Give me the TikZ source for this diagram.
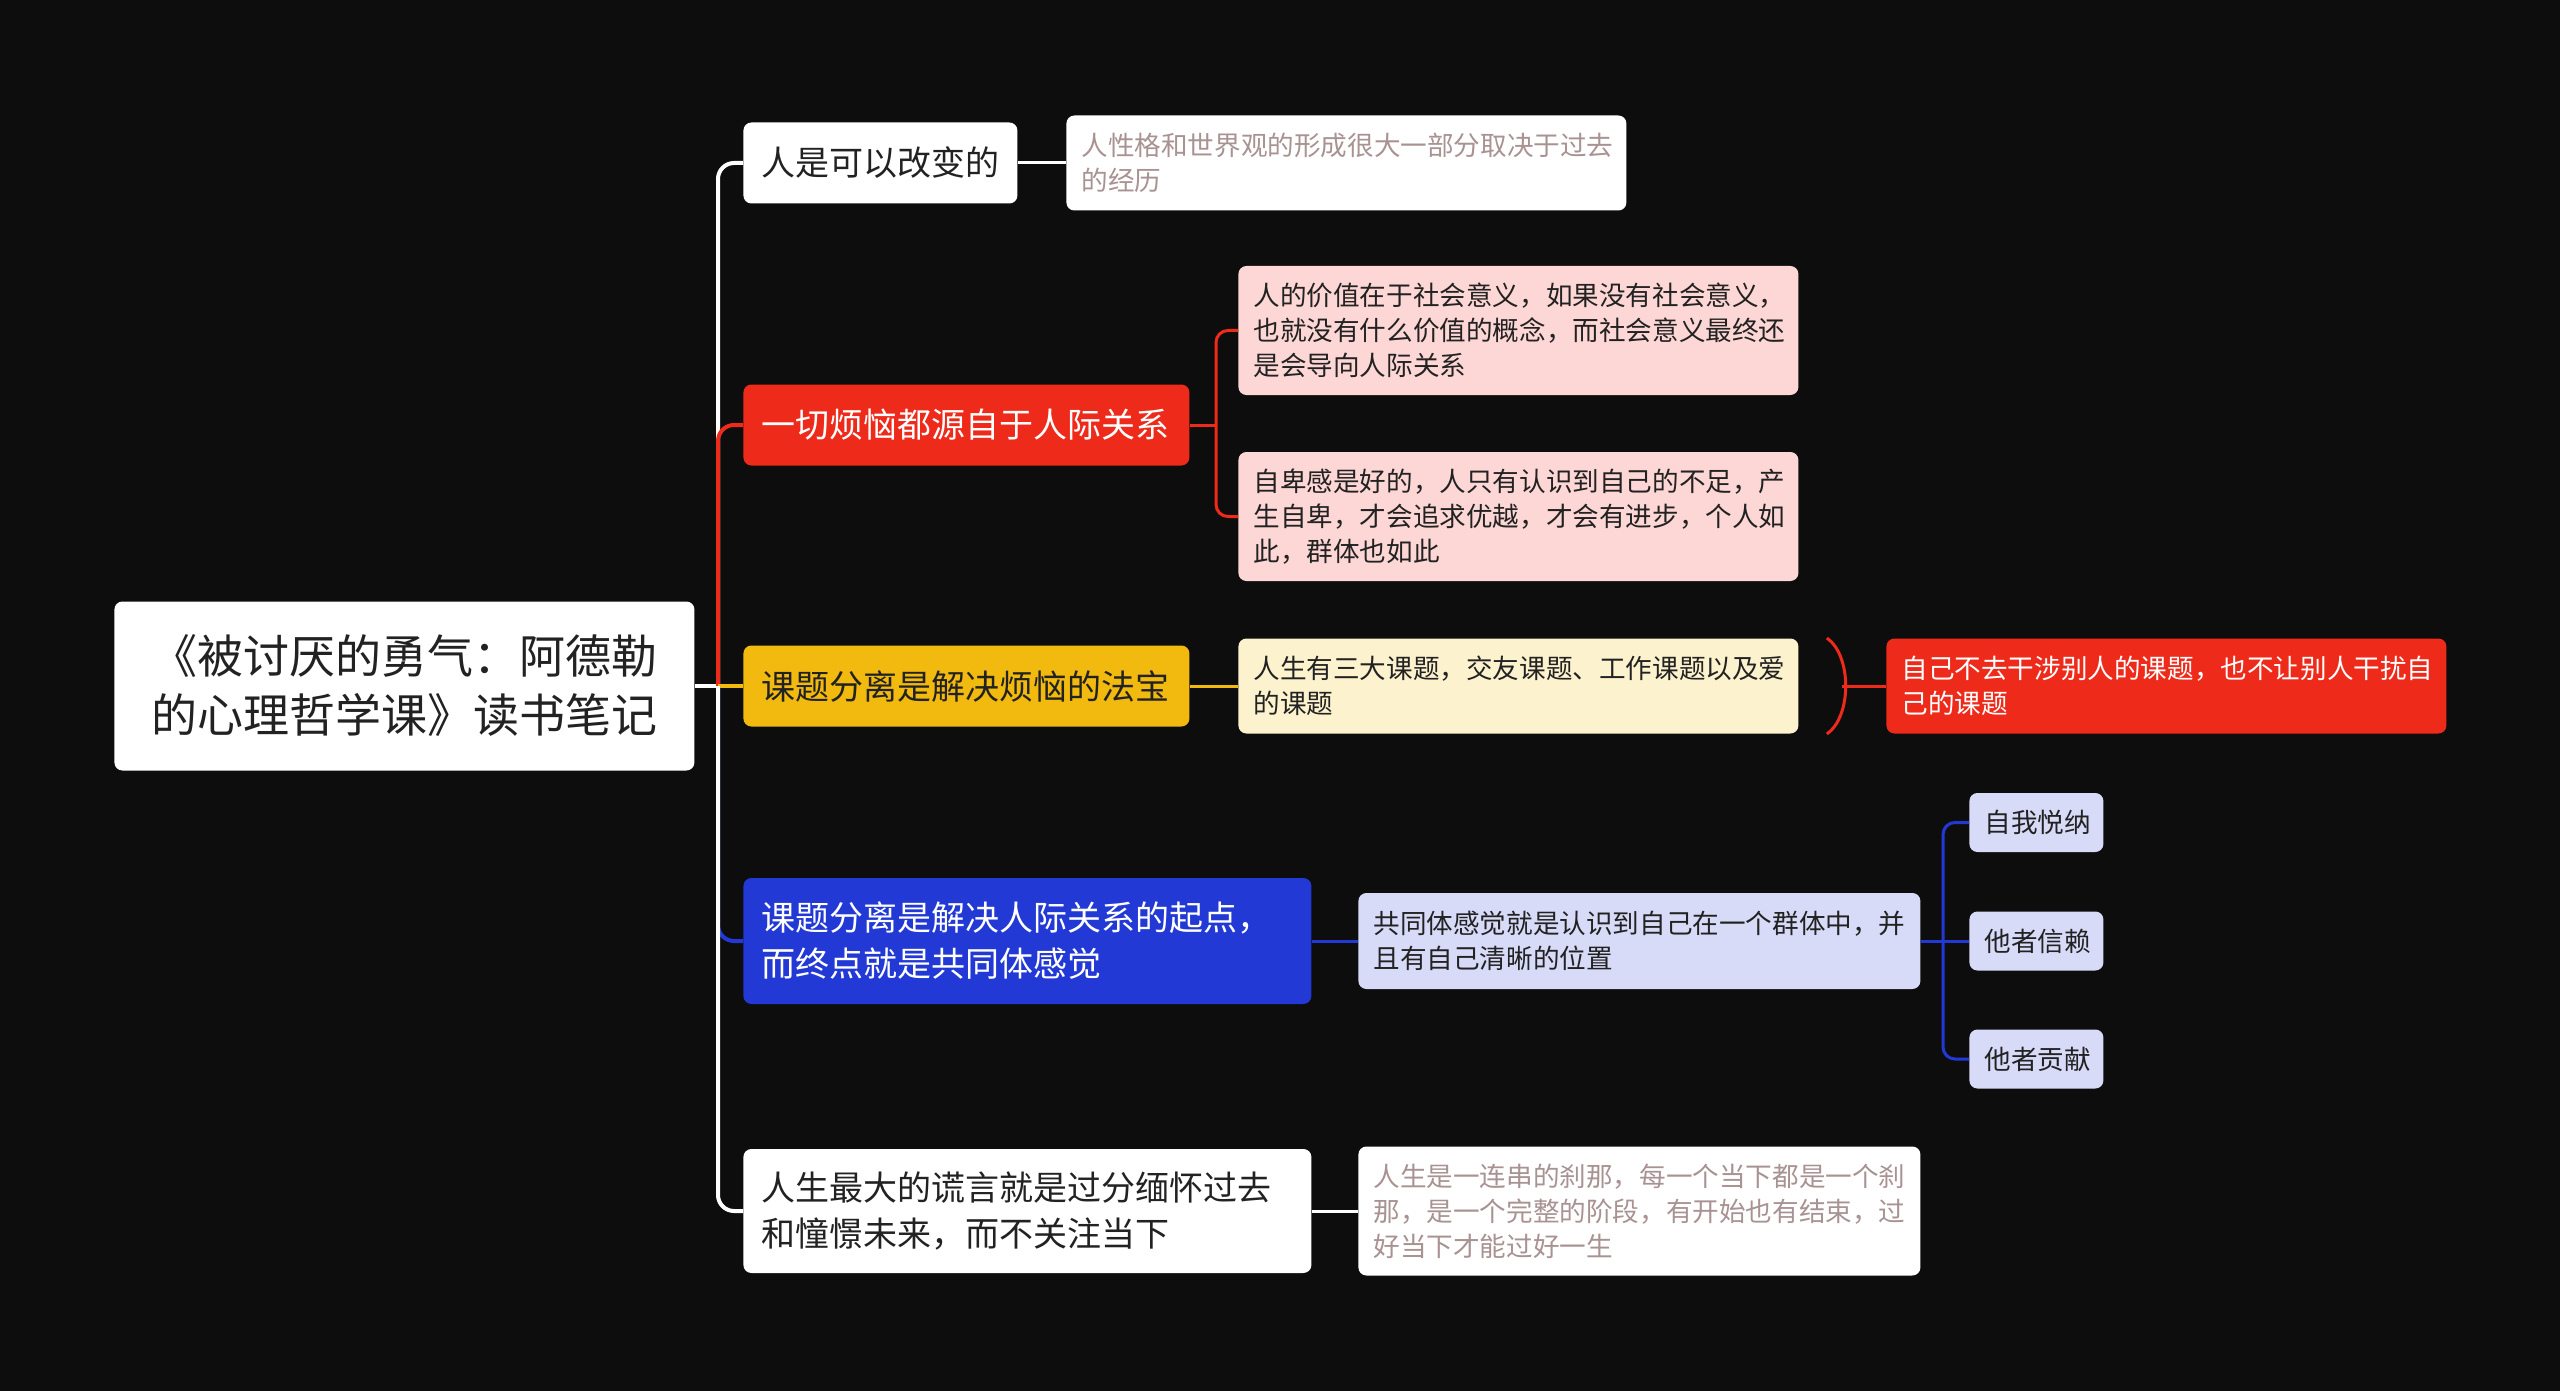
\documentclass[tikz,border=0pt]{standalone}
\usepackage{fontspec}
\setmainfont{Noto Sans CJK SC}
\definecolor{bgblack}{HTML}{0D0D0D}
\definecolor{txtdark}{HTML}{222222}
\definecolor{notegray}{HTML}{A89292}
\definecolor{topicred}{HTML}{EE2A1A}
\definecolor{topicyellow}{HTML}{F2B90F}
\definecolor{topicblue}{HTML}{2239D6}
\definecolor{leafpink}{HTML}{FDD7D5}
\definecolor{leafcream}{HTML}{FDF2CE}
\definecolor{leaflilac}{HTML}{D8DBF8}
\tikzset{box/.style={rounded corners=4pt,inner xsep=9pt,inner ysep=0pt,align=left,anchor=west},
 rootbox/.style={box,fill=white,text=txtdark,align=center,text width=272pt,minimum height=84.5pt,
  font=\fontsize{23}{29.5}\selectfont},
 topic/.style={box,text width=#1,minimum height=40.5pt,font=\fontsize{17}{23}\selectfont},
 leaf/.style={box,inner xsep=7.5pt,text width=#1,font=\fontsize{13.3}{17.5}\selectfont},
 link/.style={line width=2pt,rounded corners=8pt},
 twig/.style={line width=1.5pt,rounded corners=6pt}}

\begin{document}
\begin{tikzpicture}[x=0.5pt,y=-0.5pt]
 \fill[bgblack] (0,0) rectangle (2560,1391);
 % root and main topics
 \node[rootbox] (root) at (114,686) {《被讨厌的勇气：阿德勒\\的心理哲学课》读书笔记};
 \node[topic=119pt,fill=white,text=txtdark] (change) at (743,163) {人是可以改变的};
 \node[topic=205pt,fill=topicred,text=white] (worry) at (743,425) {一切烦恼都源自于人际关系};
 \node[topic=205pt,fill=topicyellow,text=txtdark] (split) at (743,686) {课题分离是解决烦恼的法宝};
 \node[topic=266pt,fill=topicblue,text=white,minimum height=63pt] (start) at (743,941)
  {课题分离是解决人际关系的起点，\\而终点就是共同体感觉};
 \node[topic=266pt,fill=white,text=txtdark,minimum height=62pt] (lie) at (743,1211)
  {人生最大的谎言就是过分缅怀过去\\和憧憬未来，而不关注当下};
 % leaves
 \node[leaf=265pt,fill=white,text=notegray,minimum height=47.5pt] (past) at (1066,163)
  {人性格和世界观的形成很大一部分取决于过去\\的经历};
 \node[leaf=265pt,fill=leafpink,text=txtdark,minimum height=64.5pt] (value) at (1238,330.5)
  {人的价值在于社会意义，如果没有社会意义，\\也就没有什么价值的概念，而社会意义最终还\\是会导向人际关系};
 \node[leaf=265pt,fill=leafpink,text=txtdark,minimum height=64.5pt] (inferior) at (1238,516.5)
  {自卑感是好的，人只有认识到自己的不足，产\\生自卑，才会追求优越，才会有进步，个人如\\此，群体也如此};
 \node[leaf=265pt,fill=leafcream,text=txtdark,minimum height=47.5pt] (tasks) at (1238,686)
  {人生有三大课题，交友课题、工作课题以及爱\\的课题};
 \node[leaf=265pt,fill=topicred,text=white,minimum height=47.5pt] (mine) at (1886,686)
  {自己不去干涉别人的课题，也不让别人干扰自\\己的课题};
 \node[leaf=266pt,fill=leaflilac,text=txtdark,minimum height=48pt] (group) at (1358,941)
  {共同体感觉就是认识到自己在一个群体中，并\\且有自己清晰的位置};
 \node[leaf=52pt,fill=leaflilac,text=txtdark,align=center,minimum height=29.5pt] (accept) at (1969,822.5) {自我悦纳};
 \node[leaf=52pt,fill=leaflilac,text=txtdark,align=center,minimum height=29.5pt] (trust) at (1969,941) {他者信赖};
 \node[leaf=52pt,fill=leaflilac,text=txtdark,align=center,minimum height=29.5pt] (give) at (1969,1059) {他者贡献};
 \node[leaf=266pt,fill=white,text=notegray,minimum height=64.5pt] (moment) at (1358,1211)
  {人生是一连串的刹那，每一个当下都是一个刹\\那，是一个完整的阶段，有开始也有结束，过\\好当下才能过好一生};
 % connectors
 \coordinate (trunk) at (718,686);
 \coordinate (worryj) at (1216,425);
 \coordinate (groupj) at (1943,941);
 \coordinate (tasksj) at (1842,686);
 \draw[link,white] (root.east) -- (trunk);
 \draw[link,white] (trunk) |- (change.west);
 \draw[link,topicred] (trunk) |- (worry.west);
 \draw[link,topicyellow] (trunk) -- (split.west);
 \draw[link,topicblue] (trunk) |- (start.west);
 \draw[link,white] (trunk) |- (lie.west);
 \draw[twig,white] (change.east) -- (past.west);
 \draw[twig,topicred] (worry.east) -- (worryj);
 \draw[twig,topicred] (worryj) |- (value.west);
 \draw[twig,topicred] (worryj) |- (inferior.west);
 \draw[twig,topicyellow] (split.east) -- (tasks.west);
 \draw[twig,topicred] ([xshift=14]tasks.north east) .. controls (1852,655) and (1852,717) .. ([xshift=14]tasks.south east);
 \draw[twig,topicred] (tasksj) -- (mine.west);
 \draw[twig,topicblue] (start.east) -- (group.west);
 \draw[twig,topicblue] (group.east) -- (groupj);
 \draw[twig,topicblue] (groupj) |- (accept.west);
 \draw[twig,topicblue] (groupj) -- (trust.west);
 \draw[twig,topicblue] (groupj) |- (give.west);
 \draw[twig,white] (lie.east) -- (moment.west);
\end{tikzpicture}
\end{document}
